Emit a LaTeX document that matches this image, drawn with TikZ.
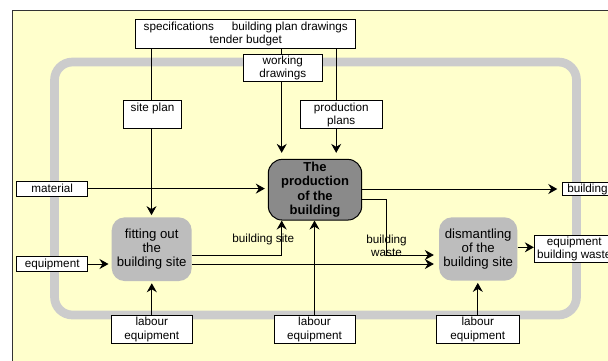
\documentclass[tikz,border=0pt]{standalone}
\usepackage{fontspec}
\setmainfont{Liberation Sans}
\usetikzlibrary{arrows.meta}
\definecolor{bgyellow}{HTML}{FFFFCC}
\definecolor{framegray}{HTML}{CCCCCC}
\definecolor{procgray}{HTML}{BDBDBD}
\definecolor{maingray}{HTML}{8A8A8A}
\definecolor{bordergray}{HTML}{333333}
\begin{document}
\begin{tikzpicture}[x=1pt,y=-1pt,
  sz/.style 2 args={minimum width=#1pt, minimum height=#2pt},
  box/.style={draw=black, fill=white, line width=0.9pt, inner sep=0pt, align=center,
    font=\fontsize{11.7}{13.3}\selectfont},
  proc/.style={fill=procgray, rounded corners=13pt, inner sep=0pt, align=center,
    font=\fontsize{13.2}{14.3}\selectfont},
  mainproc/.style={fill=maingray, draw=black, line width=1pt, rounded corners=14pt, inner sep=0pt,
    align=center, font=\fontsize{13}{14.5}\selectfont\bfseries},
  lbl/.style={inner sep=0pt, align=center, font=\fontsize{11.7}{12.7}\selectfont},
  conn/.style={line width=1pt, draw=black},
  arr/.style={conn, -{Stealth[length=9pt,width=10pt,inset=3pt]}},
]
\useasboundingbox (0,0) rectangle (608,360);
% background
\fill[white] (0,0) rectangle (608,360);
\draw[fill=bgyellow, draw=bordergray, line width=1pt] (12.7,10.5) rectangle (625,375);
% grey frame
\draw[framegray, line width=8.7pt, rounded corners=18pt] (54.5,62) rectangle (576.5,315);

% nodes
\node[box, sz={220}{29}] (top) at (245.7,33.8)
  {specifications\hspace{18pt}building plan drawings\\tender budget};
\node[box, sz={79}{27.4}] (wd) at (282.8,68) {working\\drawings};
\node[box, sz={58.4}{27.3}] (sp) at (152.5,114.4) {site plan\\\mbox{}};
\node[box, sz={81.7}{28}] (pp) at (341.2,114.7) {production\\plans};
\node[mainproc, sz={93.4}{60.7}] (main) at (315,189.7) {The\\production\\of the\\building};
\node[box, sz={71}{15}] (mat) at (52.2,188.6) {material};
\node[box, sz={60}{12.5}, anchor=west, text width=55pt, align=left, inner xsep=4.5pt] (bld) at (562.3,189) {building};
\node[proc, sz={80}{63.7}] (fo) at (151.7,249.2) {fitting out\\the\\building site};
\node[box, sz={71}{14.3}] (eq) at (52.2,264) {equipment};
\node[box, sz={81.7}{28.4}] (lab1) at (151.8,329.5) {labour\\equipment};
\node[box, sz={81}{28.4}] (lab2) at (314.5,329.5) {labour\\equipment};
\node[box, sz={82.3}{28.4}] (lab3) at (477.8,329.5) {labour\\equipment};
\node[proc, sz={78.3}{63.4}] (dm) at (478.2,249) {dismantling\\of the\\building site};
\node[box, sz={80}{27}] (eqbw) at (574.3,249.2) {equipment\\building waste};

% labels
\node[lbl] (lbs) at (263.3,239) {building site};
\node[lbl] (lbw) at (386.5,245.5) {building\\waste};

% helper coordinates
\coordinate (c1) at (151.5,0);
\coordinate (c2) at (281.7,0);
\coordinate (c3) at (336.2,0);
\coordinate (bsbend) at (281.7,255);
\coordinate (ll) at (0,264);
\coordinate (bw1) at (386.7,199.3);
\coordinate (bw2) at (386.7,255);
\coordinate (eo) at (0,247.3);

% connectors
\draw[conn] (top.south -| c1) -- (sp.north -| c1);
\draw[arr, shorten >=2pt] (sp.south -| c1) -- (fo.north -| c1);
\draw[conn] (top.south -| c2) -- (wd.north -| c2);
\draw[arr, shorten >=6pt] (wd.south -| c2) -- (main.north -| c2);
\draw[conn] (top.south -| c3) -- (pp.north -| c3);
\draw[arr, shorten >=6pt] (pp.south -| c3) -- (main.north -| c3);
\draw[arr, shorten >=3pt] (mat.east) -- (main.west |- mat.east);
\draw[arr, shorten >=5pt] (main.east |- bld.west) -- (bld.west);
\draw[arr, shorten >=3pt] (eq.east) -- (fo.west |- eq.east);
\draw[arr, shorten >=2pt] (lab1.north) -- (lab1.north |- fo.south);
\draw[arr] (lab2.north) -- (lab2.north |- main.south);
\draw[arr, shorten >=2pt] (lab3.north) -- (lab3.north |- dm.south);
\draw[arr] (fo.east |- bsbend) -- (bsbend) -- (bsbend |- main.south);
\draw[arr, shorten >=5pt] (fo.east |- ll) -- (dm.west |- ll);
\draw[arr, shorten >=5pt] (main.east |- bw1) -- (bw1) -- (bw2) -- (dm.west |- bw2);
\draw[arr] (dm.east |- eo) -- (eqbw.west |- eo);
\end{tikzpicture}
\end{document}
